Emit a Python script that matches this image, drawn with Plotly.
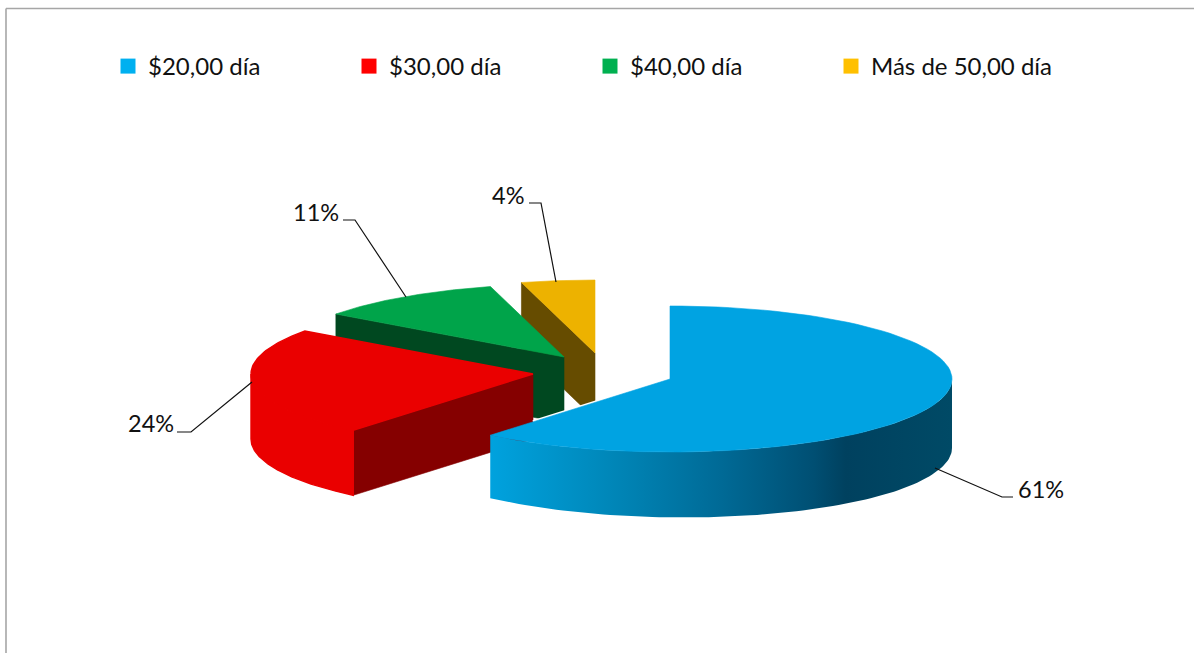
import math
import plotly.graph_objects as go

# ---- data ----
categories = ["$20,00 día", "$30,00 día", "$40,00 día", "Más de 50,00 día"]
shares = [61.0, 24.0, 10.8, 4.2]

# ---- styles ----
legend_colors = ["#00B0F0", "#FF0000", "#00B050", "#FFC000"]
top_colors = ["#00A3E2", "#EA0000", "#00A44A", "#EDB200"]
side_colors = ["#004A66", "#EA0000", "#004820", "#664C00"]
cut_colors = ["#004A66", "#850000", "#004820", "#664C00"]
blue_gradient = [[0, "#00A2DE"], [0.25, "#0088BA"], [0.5, "#006A96"],
                 [0.7, "#004F73"], [0.77, "#00415F"], [1, "#004A66"]]

# ---- projection of the exploded pie (pixel space) ----
W, H = 1194, 653
RX, RY = 282, 73
apexes = [(670, 379), (533, 374), (564, 357), (595, 353)]
depths = [66, 65, 66, 66]
# label anchor, leader polyline
label_xy = [(1041, 489), (151, 423), (316, 212), (508, 195)]
leaders = [[(935, 468), (1002, 497), (1013, 497)],
           [(252, 382), (191, 432), (177, 432)],
           [(406, 297), (355, 220), (343, 220)],
           [(556, 282), (541, 203), (529, 203)]]


def rim(apex, a0, a1, n=90):
    pts = []
    for i in range(n + 1):
        t = math.radians(a0 + (a1 - a0) * i / n)
        pts.append((apex[0] + RX * math.sin(t), apex[1] - RY * math.cos(t)))
    return pts


def blue_depth(x):
    return 63 + 6 * (x - 489) / 463


def poly(fig, pts, color, lw=0.6):
    fig.add_trace(go.Scatter(
        x=[p[0] for p in pts] + [pts[0][0]],
        y=[p[1] for p in pts] + [pts[0][1]],
        mode="lines", fill="toself", fillcolor=color,
        line=dict(width=lw, color=color), showlegend=False, hoverinfo="skip"))


fig = go.Figure()

total = sum(shares)
angles = [0]
for s in shares:
    angles.append(angles[-1] + 360 * s / total)

for i in [3, 2, 1, 0]:
    a0, a1 = angles[i], angles[i + 1]
    apex = apexes[i]
    d = depths[i]
    # thin white gap in front of the slices behind the big slice
    if i == 0:
        end = rim(apex, a1, a1, 1)[0]
        f = (apex[0] - 533) / (apex[0] - end[0])
        fig.add_trace(go.Scatter(
            x=[apex[0], apex[0] + (end[0] - apex[0]) * f],
            y=[apex[1], apex[1] + (end[1] - apex[1]) * f],
            mode="lines", line=dict(color="white", width=3.5),
            showlegend=False, hoverinfo="skip"))
    # radial cut face at the start angle
    if math.sin(math.radians(a0)) < 0:
        p = rim(apex, a0, a0, 1)[0]
        poly(fig, [apex, p, (p[0], p[1] + d), (apex[0], apex[1] + d)], cut_colors[i])
    # outer wall, front half only
    v0, v1 = max(a0, 90), min(a1, 270)
    if v1 > v0:
        r = rim(apex, v0, v1)
        if i == 0:
            low = [(x, y + blue_depth(x)) for x, y in reversed(r)]
            xs = [p[0] for p in r + low] + [r[0][0]]
            ys = [p[1] for p in r + low] + [r[0][1]]
            fig.add_trace(go.Scatter(
                x=xs, y=ys, mode="lines", fill="toself",
                line=dict(width=0), showlegend=False, hoverinfo="skip",
                fillgradient=dict(type="horizontal", colorscale=blue_gradient)))
        else:
            low = [(x, y + d) for x, y in reversed(r)]
            poly(fig, r + low, side_colors[i], lw=1.4)
    # top face
    poly(fig, [apex] + rim(apex, a0, a1), top_colors[i], lw=1.4 if i == 1 else 0.6)

# leader lines
for pts in leaders:
    fig.add_trace(go.Scatter(x=[p[0] for p in pts], y=[p[1] for p in pts], mode="lines",
                             line=dict(color="#111111", width=1.2),
                             showlegend=False, hoverinfo="skip"))

# legend entries
for name, col in zip(categories, legend_colors):
    fig.add_trace(go.Scatter(x=[None], y=[None], mode="markers", name=name,
                             marker=dict(symbol="square", size=15, color=col)))

# percentage labels
annotations = [dict(x=x, y=y, text=f"{round(s)}%", showarrow=False,
                    font=dict(family="Lato", size=23.5, color="#111111"),
                    xanchor="center", yanchor="middle")
               for (x, y), s in zip(label_xy, shares)]

fig.update_layout(
    width=W, height=H, margin=dict(l=0, r=0, t=0, b=0),
    paper_bgcolor="white", plot_bgcolor="white",
    xaxis=dict(range=[0, W], visible=False, fixedrange=True),
    yaxis=dict(range=[H, 0], visible=False, fixedrange=True),
    annotations=annotations,
    legend=dict(orientation="h", x=108 / W, y=1 - 44 / H, xanchor="left", yanchor="top",
                entrywidth=196, entrywidthmode="pixels", itemsizing="trace",
                font=dict(family="Lato", size=24, color="#111111"), bgcolor="rgba(0,0,0,0)"),
    shapes=[dict(type="line", xref="x", yref="y", x0=6, x1=6, y0=8.5, y1=H,
                 line=dict(color="#A6A6A6", width=1.6)),
            dict(type="line", xref="x", yref="y", x0=6, x1=W, y0=8.5, y1=8.5,
                 line=dict(color="#A6A6A6", width=1.6))],
)

fig.write_html("out.html", config={"displayModeBar": False},
               post_script="document.body.style.margin='0';document.body.style.overflow='hidden';")
